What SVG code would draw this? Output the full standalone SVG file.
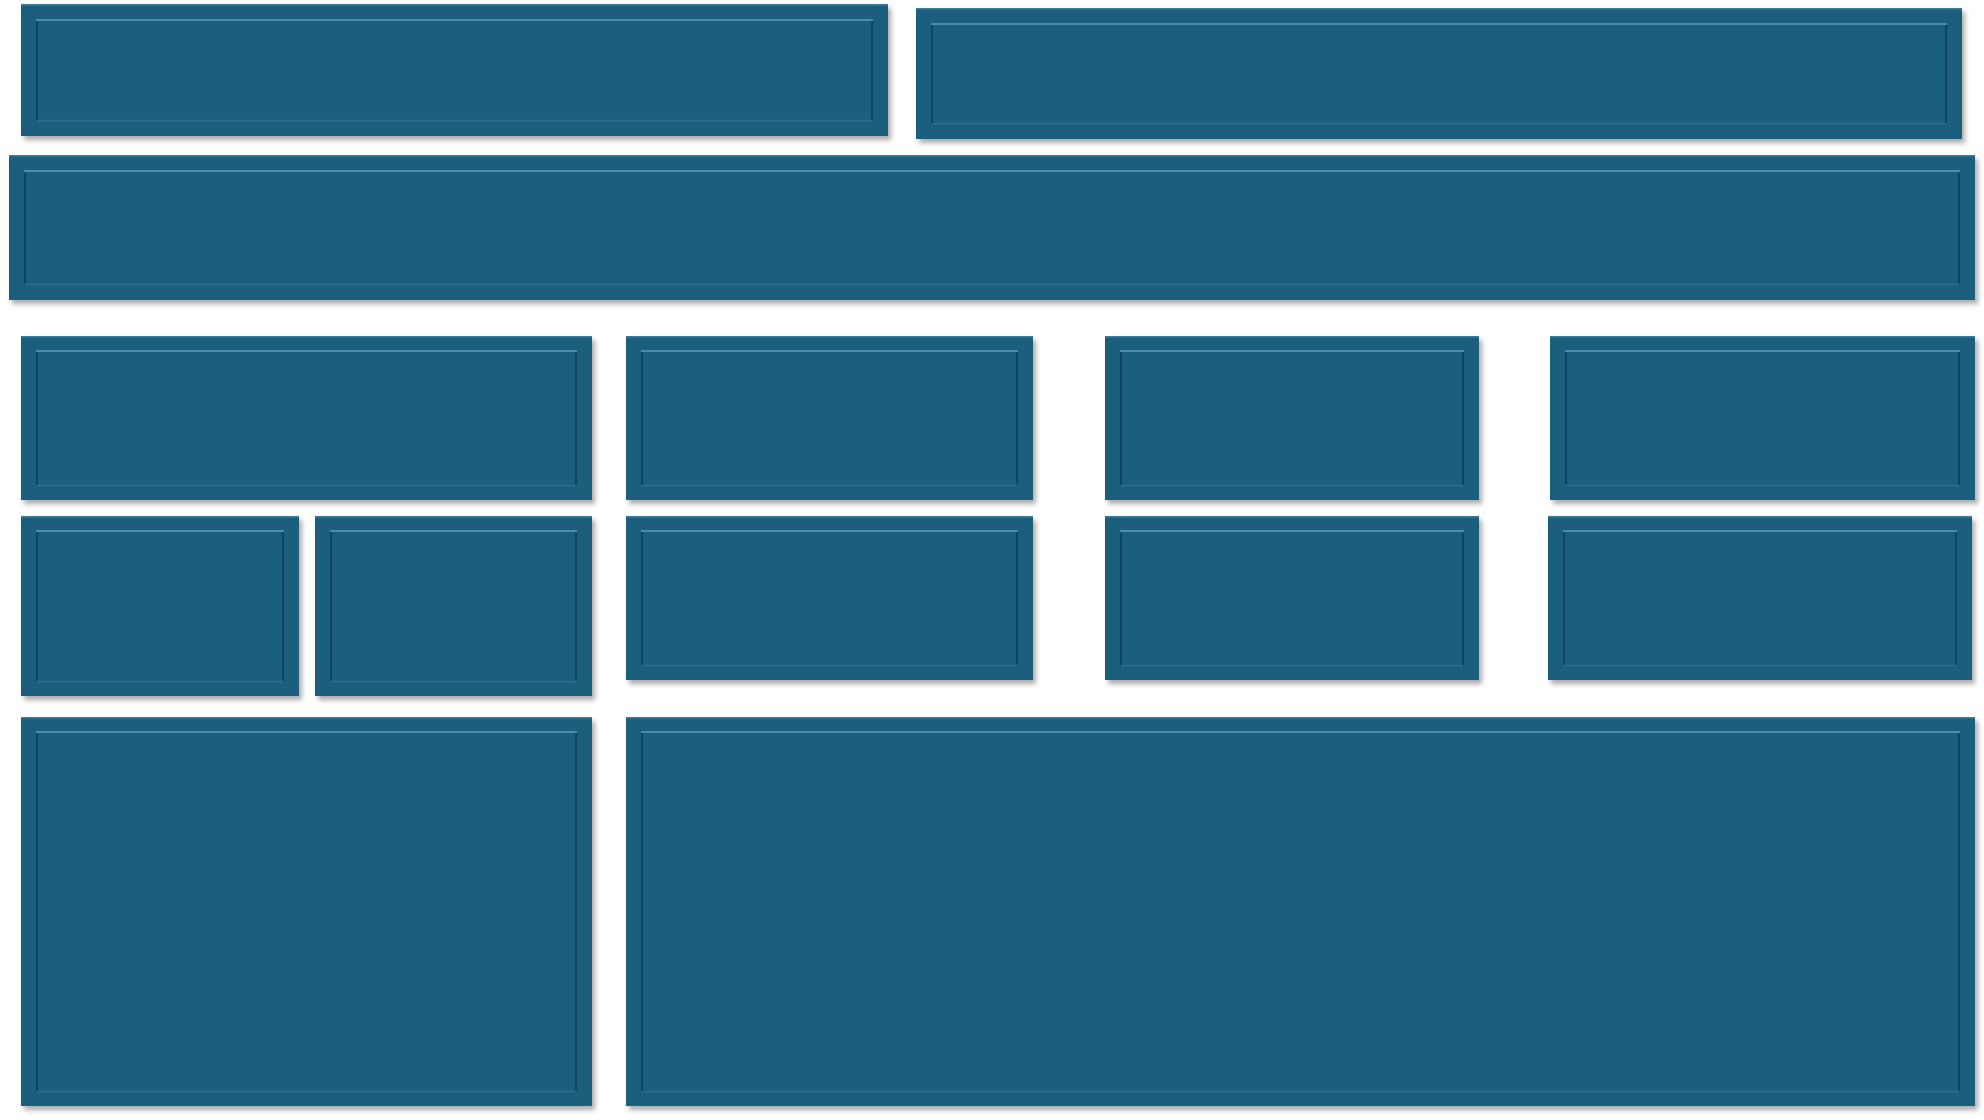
<svg xmlns="http://www.w3.org/2000/svg" width="1984" height="1120" viewBox="0 0 1984 1120">
<defs>
<filter id="sh" x="-5%" y="-10%" width="110%" height="125%">
<feDropShadow dx="3" dy="4" stdDeviation="2.5" flood-color="#000" flood-opacity="0.33"/>
</filter>
</defs>
<style>
.o{fill:#1F5F7D}
.oh{stroke:#3B7C9B;stroke-width:1.5;fill:none}
.it{stroke:#4B8DAB;stroke-width:2;fill:none}
.id{stroke:#0E4561;stroke-width:2;fill:none}
.ib{stroke:#2A7091;stroke-width:1.5;fill:none}
</style>
<rect width="1984" height="1120" fill="#FFFFFF"/>
<g id="n1" filter="url(#sh)"><rect class="o" x="21" y="4" width="867" height="132"/><path class="oh" d="M21 4.75H888"/><path class="id" d="M37 20V120M872 20V120"/><path class="it" d="M36 20H873"/><path class="ib" d="M37 120.5H872"/></g>
<g id="n2" filter="url(#sh)"><rect class="o" x="916" y="8" width="1046" height="131"/><path class="oh" d="M916 8.75H1962"/><path class="id" d="M932 24V123M1946 24V123"/><path class="it" d="M931 24H1947"/><path class="ib" d="M932 123.5H1946"/></g>
<g id="n3" filter="url(#sh)"><rect class="o" x="9" y="155" width="1966" height="145"/><path class="oh" d="M9 155.75H1975"/><path class="id" d="M25 171V284M1959 171V284"/><path class="it" d="M24 171H1960"/><path class="ib" d="M25 284.5H1959"/></g>
<g id="n4" filter="url(#sh)"><rect class="o" x="21" y="336" width="571" height="164"/><path class="oh" d="M21 336.75H592"/><path class="id" d="M37 351V485M576 351V485"/><path class="it" d="M36 351H577"/><path class="ib" d="M37 485.5H576"/></g>
<g id="n5" filter="url(#sh)"><rect class="o" x="626" y="336" width="407" height="164"/><path class="oh" d="M626 336.75H1033"/><path class="id" d="M642 351V485M1017 351V485"/><path class="it" d="M641 351H1018"/><path class="ib" d="M642 485.5H1017"/></g>
<g id="n6" filter="url(#sh)"><rect class="o" x="1105" y="336" width="374" height="164"/><path class="oh" d="M1105 336.75H1479"/><path class="id" d="M1121 351V485M1463 351V485"/><path class="it" d="M1120 351H1464"/><path class="ib" d="M1121 485.5H1463"/></g>
<g id="n7" filter="url(#sh)"><rect class="o" x="1550" y="336" width="425" height="164"/><path class="oh" d="M1550 336.75H1975"/><path class="id" d="M1566 351V485M1959 351V485"/><path class="it" d="M1565 351H1960"/><path class="ib" d="M1566 485.5H1959"/></g>
<g id="n8" filter="url(#sh)"><rect class="o" x="21" y="516" width="278" height="180"/><path class="oh" d="M21 516.75H299"/><path class="id" d="M37 531V681M283 531V681"/><path class="it" d="M36 531H284"/><path class="ib" d="M37 681.5H283"/></g>
<g id="n9" filter="url(#sh)"><rect class="o" x="315" y="516" width="277" height="180"/><path class="oh" d="M315 516.75H592"/><path class="id" d="M331 531V681M576 531V681"/><path class="it" d="M330 531H577"/><path class="ib" d="M331 681.5H576"/></g>
<g id="n10" filter="url(#sh)"><rect class="o" x="626" y="516" width="407" height="164"/><path class="oh" d="M626 516.75H1033"/><path class="id" d="M642 531V665M1017 531V665"/><path class="it" d="M641 531H1018"/><path class="ib" d="M642 665.5H1017"/></g>
<g id="n11" filter="url(#sh)"><rect class="o" x="1105" y="516" width="374" height="164"/><path class="oh" d="M1105 516.75H1479"/><path class="id" d="M1121 531V665M1463 531V665"/><path class="it" d="M1120 531H1464"/><path class="ib" d="M1121 665.5H1463"/></g>
<g id="n12" filter="url(#sh)"><rect class="o" x="1548" y="516" width="424" height="164"/><path class="oh" d="M1548 516.75H1972"/><path class="id" d="M1564 531V665M1956 531V665"/><path class="it" d="M1563 531H1957"/><path class="ib" d="M1564 665.5H1956"/></g>
<g id="n13" filter="url(#sh)"><rect class="o" x="21" y="717" width="571" height="389"/><path class="oh" d="M21 717.75H592"/><path class="id" d="M37 732V1091M576 732V1091"/><path class="it" d="M36 732H577"/><path class="ib" d="M37 1091.5H576"/></g>
<g id="n14" filter="url(#sh)"><rect class="o" x="626" y="717" width="1349" height="389"/><path class="oh" d="M626 717.75H1975"/><path class="id" d="M642 732V1091M1959 732V1091"/><path class="it" d="M641 732H1960"/><path class="ib" d="M642 1091.5H1959"/></g>
<g id="connectors"/>
</svg>
